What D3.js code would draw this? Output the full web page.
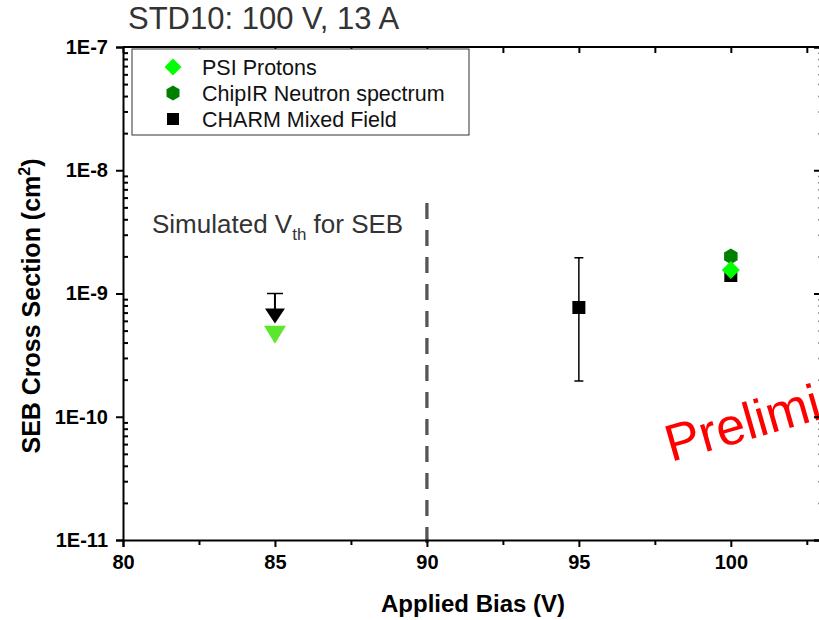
<!DOCTYPE html>
<html>
<head>
<meta charset="utf-8">
<script src="https://cdn.jsdelivr.net/npm/d3@7"></script>
<style>
  body { margin: 0; background: #fff; }
  text { font-family: "Liberation Sans", Arial, sans-serif; }
</style>
</head>
<body>
<div id="chart"></div>
<script>
const titleText = "STD10: 100 V, 13 A";
const xTickValues = [80, 85, 90, 95, 100];
const yTickValues = [1e-11, 1e-10, 1e-9, 1e-8, 1e-7];
const yTickLabels = ["1E-11", "1E-10", "1E-9", "1E-8", "1E-7"];

// PSI Protons
const psiBias = [100];
const psiValue = [1.55e-9];
const psiLimitBias = [85];       // upper limit (down triangle)
const psiLimitValue = [4.8e-10];

// ChipIR Neutron spectrum
const chipirBias = [100];
const chipirValue = [2.0e-9];

// CHARM Mixed Field
const charmBias = [95, 100];
const charmValue = [7.7e-10, 1.4e-9];
const charmLow = [1.95e-10, null];
const charmHigh = [1.95e-9, null];
const charmLimitBias = [85];     // upper limit with arrow
const charmLimitValue = [1e-9];

const vthBias = 90;
const legendNames = ["PSI Protons", "ChipIR Neutron spectrum", "CHARM Mixed Field"];

(function() {
  const width = 819, height = 620;
  const x0 = 123, x1 = 822, y0 = 47, y1 = 540;

  const svg = d3.select("#chart").append("svg")
    .attr("width", width).attr("height", height);

  const x = d3.scaleLinear().domain([80, 103]).range([x0, x1]);
  const y = d3.scaleLog().domain([1e-11, 1e-7]).range([y1, y0]);

  const minorY = y.ticks().filter(v => !yTickValues.some(t => Math.abs(t - v) / t < 1e-6));
  const minorX = d3.range(82.5, 103, 5);

  const diamond = s => `M0,${-s}L${s},0L0,${s}L${-s},0Z`;
  const hexagon = r => d3.line()(d3.range(6).map(k => {
    const a = (-90 + 60 * k) * Math.PI / 180;
    return [r * Math.cos(a), r * Math.sin(a)];
  })) + "Z";

  // title
  svg.append("text").attr("x", 128).attr("y", 29)
    .style("font-size", "31px").style("fill", "#333").text(titleText);

  // Preliminary watermark
  svg.append("text")
    .attr("transform", "translate(671,462) rotate(-16)")
    .style("font-size", "52px").style("fill", "#ff0000")
    .text("Preliminary");

  // vth line
  svg.append("line")
    .attr("x1", x(vthBias)).attr("x2", x(vthBias))
    .attr("y1", 203).attr("y2", 546)
    .attr("stroke", "#555").attr("stroke-width", 3.3)
    .attr("stroke-dasharray", "16,11");

  const vt = svg.append("text").attr("x", 152).attr("y", 233)
    .style("font-size", "26px").style("fill", "#333");
  vt.append("tspan").text("Simulated V");
  vt.append("tspan").attr("dy", 7).style("font-size", "17px").text("th");
  vt.append("tspan").attr("dy", -7).text(" for SEB");

  // axes
  const axisStyle = g => {
    g.select(".domain").attr("stroke", "#000").attr("stroke-width", 2);
    g.selectAll(".tick line").attr("stroke", "#000").attr("stroke-width", 2);
    g.selectAll("text").style("font-size", "20px").style("font-weight", "bold")
      .style("font-family", "'Liberation Sans', Arial, sans-serif").attr("fill", "#000");
  };

  svg.append("g").attr("transform", `translate(0,${y1})`)
    .call(d3.axisBottom(x).tickValues(xTickValues).tickSize(7).tickPadding(8).tickFormat(d3.format("d")))
    .call(axisStyle);
  svg.append("g").attr("transform", `translate(0,${y1})`)
    .call(d3.axisBottom(x).tickValues(minorX).tickSize(5).tickFormat(""))
    .call(axisStyle).call(g => g.select(".domain").remove());

  svg.append("g").attr("transform", `translate(0,${y0})`)
    .call(d3.axisTop(x).tickValues(xTickValues.concat(minorX)).tickSize(-6).tickFormat(""))
    .call(axisStyle).call(g => g.select(".domain").attr("d", `M${x0},0H${x1}`));

  svg.append("g").attr("transform", `translate(${x0},0)`)
    .call(d3.axisLeft(y).tickValues(yTickValues).tickSize(7).tickPadding(8)
      .tickFormat((d, i) => yTickLabels[i]))
    .call(axisStyle);
  svg.append("g").attr("transform", `translate(${x0},0)`)
    .call(d3.axisLeft(y).tickValues(minorY).tickSize(-5).tickFormat(""))
    .call(axisStyle).call(g => g.select(".domain").remove());

  svg.append("g").attr("transform", `translate(${x1},0)`)
    .call(d3.axisRight(y).tickValues(yTickValues).tickSize(-8).tickFormat(""))
    .call(axisStyle);
  svg.append("g").attr("transform", `translate(${x1},0)`)
    .call(d3.axisRight(y).tickValues(minorY).tickSize(-4).tickFormat(""))
    .call(axisStyle).call(g => g.selectAll(".tick line").attr("stroke", "#888").attr("stroke-width", 1.5))
    .call(g => g.select(".domain").remove());

  // axis titles
  svg.append("text").attr("x", 473).attr("y", 612)
    .attr("text-anchor", "middle").style("font-size", "24px").style("font-weight", "bold")
    .text("Applied Bias (V)");

  const yl = svg.append("text").attr("transform", "translate(40,306) rotate(-90)")
    .attr("text-anchor", "middle").style("font-size", "25px").style("font-weight", "bold");
  yl.append("tspan").text("SEB Cross Section (cm");
  yl.append("tspan").attr("dy", -10).style("font-size", "16px").text("2");
  yl.append("tspan").attr("dy", 10).text(")");

  // CHARM error bars
  const charm = charmBias.map((b, i) => ({ b, v: charmValue[i], lo: charmLow[i], hi: charmHigh[i] }));
  const eb = svg.append("g").attr("stroke", "#000").attr("stroke-width", 1.5);
  charm.filter(d => d.lo !== null).forEach(d => {
    eb.append("line").attr("x1", x(d.b)).attr("x2", x(d.b)).attr("y1", y(d.hi)).attr("y2", y(d.lo));
    [d.hi, d.lo].forEach(v => eb.append("line")
      .attr("x1", x(d.b) - 4.5).attr("x2", x(d.b) + 4.5).attr("y1", y(v)).attr("y2", y(v)));
  });

  // CHARM upper limit arrow
  charmLimitBias.forEach((b, i) => {
    const cx = x(b), cy = y(charmLimitValue[i]);
    svg.append("line").attr("x1", cx - 8).attr("x2", cx + 8).attr("y1", cy).attr("y2", cy)
      .attr("stroke", "#000").attr("stroke-width", 1.5);
    svg.append("line").attr("x1", cx).attr("x2", cx).attr("y1", cy).attr("y2", cy + 16)
      .attr("stroke", "#000").attr("stroke-width", 2);
  });

  // PSI upper limit triangle
  psiLimitBias.forEach((b, i) => {
    const cx = x(b), cy = y(psiLimitValue[i]);
    svg.append("path").attr("d", `M${cx - 11},${cy - 7}L${cx + 11},${cy - 7}L${cx},${cy + 11}Z`)
      .attr("fill", "#5ce62e");
  });
  charmLimitBias.forEach((b, i) => {
    const cx = x(b), cy = y(charmLimitValue[i]);
    svg.append("path").attr("d", `M${cx - 10},${cy + 15}L${cx + 10},${cy + 15}L${cx},${cy + 30}Z`)
      .attr("fill", "#000");
  });

  // CHARM squares
  svg.selectAll(".charm").data(charm).join("rect").attr("class", "charm")
    .attr("x", d => x(d.b) - 6.5).attr("y", d => y(d.v) - 6.5)
    .attr("width", 13).attr("height", 13).attr("fill", "#000");

  // ChipIR hexagons
  svg.selectAll(".chipir").data(chipirBias).join("path").attr("class", "chipir")
    .attr("transform", (d, i) => `translate(${x(d)},${y(chipirValue[i])})`)
    .attr("d", hexagon(7.8)).attr("fill", "#008000");

  // PSI diamonds
  svg.selectAll(".psi").data(psiBias).join("path").attr("class", "psi")
    .attr("transform", (d, i) => `translate(${x(d)},${y(psiValue[i])})`)
    .attr("d", diamond(9)).attr("fill", "#00ff00");

  // legend
  const lg = svg.append("g");
  lg.append("rect").attr("x", 132).attr("y", 49).attr("width", 337).attr("height", 86)
    .attr("fill", "#fff").attr("stroke", "#333").attr("stroke-width", 1);
  const rows = [67, 93, 119];
  lg.append("path").attr("transform", `translate(173,${rows[0]})`).attr("d", diamond(8.5)).attr("fill", "#00ff00");
  lg.append("path").attr("transform", `translate(173,${rows[1]})`).attr("d", hexagon(7.5)).attr("fill", "#008000");
  lg.append("rect").attr("x", 167).attr("y", rows[2] - 6).attr("width", 12).attr("height", 12).attr("fill", "#000");
  lg.selectAll(".lt").data(legendNames).join("text").attr("class", "lt")
    .attr("x", 202).attr("y", (d, i) => rows[i] + 7.5)
    .style("font-size", "21.5px").style("fill", "#111").text(d => d);
})();
</script>
</body>
</html>
